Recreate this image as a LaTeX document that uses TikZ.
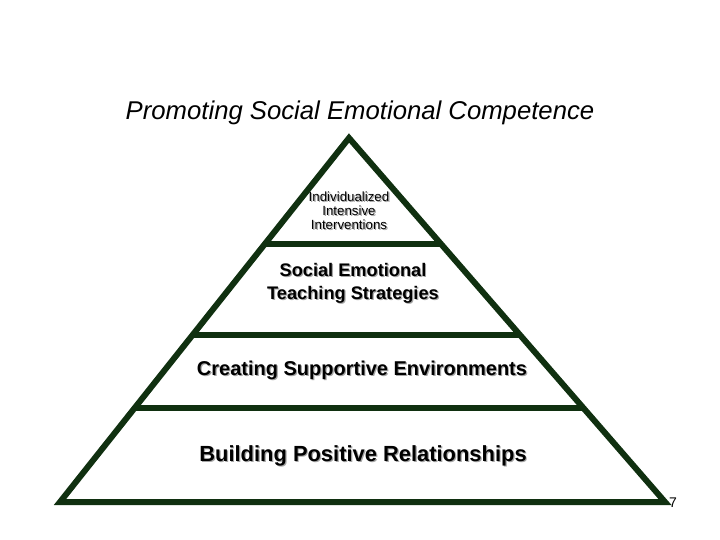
\documentclass[tikz,border=0pt]{standalone}
\usepackage{fontspec}
\setmainfont{Liberation Sans}
\usepackage{xcolor}
\definecolor{pyrgreen}{RGB}{16,48,16}
\definecolor{shadowgray}{RGB}{165,165,165}
\usetikzlibrary{positioning, calc}

% text with a soft grey shadow
\newcommand{\tiertext}[4]{%
  \node[tierlabel, text=shadowgray, font=#3] at ([xshift=1.2pt,yshift=-1.2pt]#2) {#4};
  \node[tierlabel, font=#3] (#1) at (#2) {#4};}

\begin{document}
\begin{tikzpicture}[
        x=1pt, y=-1pt,
        edge/.style={draw=pyrgreen, line width=6pt, line join=miter},
        tierlabel/.style={align=center, inner sep=0pt, text=black}
    ]
        \useasboundingbox (0,0) rectangle (720,540);

        \coordinate (apex) at (349,138);
        \coordinate (baseL) at (60,502);
        \coordinate (baseR) at (665,502);

        \node[font=\fontsize{25.7}{30}\selectfont\itshape] (title) at (360,113) {Promoting Social Emotional Competence};

        \draw[edge] (apex) -- (baseR) -- (baseL) -- cycle;
        \draw[edge] ($(apex)!0.291!(baseL)$) coordinate (l1) -- ($(apex)!0.291!(baseR)$) coordinate (r1);
        \draw[edge] ($(apex)!0.541!(baseL)$) coordinate (l2) -- ($(apex)!0.541!(baseR)$) coordinate (r2);
        \draw[edge] ($(apex)!0.742!(baseL)$) coordinate (l3) -- ($(apex)!0.742!(baseR)$) coordinate (r3);

        \tiertext{tierA}{349,211}{\fontsize{13.3}{14}\selectfont}{Individualized\\Intensive\\Interventions}
        \tiertext{tierB}{353,283.5}{\fontsize{18.2}{23}\selectfont\bfseries}{Social Emotional\\Teaching Strategies}
        \tiertext{tierC}{362,370}{\fontsize{20}{24}\selectfont\bfseries}{Creating Supportive Environments}
        \tiertext{tierD}{363,456}{\fontsize{21.9}{24}\selectfont\bfseries}{Building Positive Relationships}

        \node[font=\fontsize{14}{16}\selectfont, inner sep=0pt] (page) at (673,503) {7};
    \end{tikzpicture}
\end{document}
